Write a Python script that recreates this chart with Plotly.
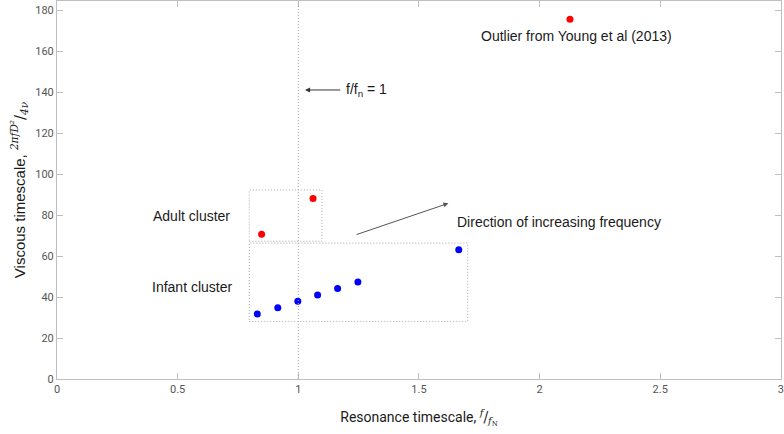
import plotly.graph_objects as go

# Data
infant_x = [0.83, 0.915, 0.998, 1.08, 1.163, 1.247, 1.665]
infant_y = [31.7, 34.8, 37.9, 41.0, 44.2, 47.3, 63.1]
adult_x = [0.848, 1.061]
adult_y = [70.6, 88.0]
outlier_x = [2.126]
outlier_y = [175.5]

x_ticks = [0, 0.5, 1, 1.5, 2, 2.5, 3]
x_ticklabels = ["0", "0.5", "1", "1.5", "2", "2.5", "3"]
y_ticks = [0, 20, 40, 60, 80, 100, 120, 140, 160, 180]

# Boxes (data coords)
adult_box = dict(x0=0.797, x1=1.098, y0=67.2, y1=92.2)
infant_box = dict(x0=0.797, x1=1.702, y0=28.1, y1=66.3)

fig = go.Figure()
fig.add_trace(go.Scatter(x=infant_x, y=infant_y, mode="markers",
                         marker=dict(color="#0000ff", size=7, line=dict(width=0)),
                         showlegend=False, cliponaxis=False))
fig.add_trace(go.Scatter(x=adult_x + outlier_x, y=adult_y + outlier_y, mode="markers",
                         marker=dict(color="#ff0000", size=7, line=dict(width=0)),
                         showlegend=False, cliponaxis=False))

line_style = dict(color="#a6a6a6", width=1, dash="1px,2px")
fig.add_shape(type="line", xref="x", yref="paper", x0=1, x1=1, y0=0, y1=1, line=line_style)
for b in (adult_box, infant_box):
    fig.add_shape(type="rect", xref="x", yref="y", line=line_style, **b)

txt_font = dict(family="Liberation Sans, Arial, sans-serif", size=14, color="#1a1a1a")

fig.add_annotation(x=1.028, y=141, ax=1.18, ay=141, xref="x", yref="y", axref="x", ayref="y",
                   text="", showarrow=True, arrowhead=2, arrowsize=1, arrowwidth=1, arrowcolor="#333")
fig.add_annotation(x=1.19, y=141, xref="x", yref="y", text="f/f<sub>n</sub> = 1",
                   showarrow=False, xanchor="left", yanchor="middle", font=txt_font)
fig.add_annotation(x=1.622, y=85.7, ax=1.235, ay=70.2, xref="x", yref="y", axref="x", ayref="y",
                   text="", showarrow=True, arrowhead=2, arrowsize=1, arrowwidth=1, arrowcolor="#555")
fig.add_annotation(x=1.649, y=76.4, xref="x", yref="y", text="Direction of increasing frequency",
                   showarrow=False, xanchor="left", yanchor="middle", font=txt_font)
fig.add_annotation(x=0.558, y=79.5, xref="x", yref="y", text="Adult cluster",
                   showarrow=False, xanchor="center", yanchor="middle", font=txt_font)
fig.add_annotation(x=0.558, y=44.7, xref="x", yref="y", text="Infant cluster",
                   showarrow=False, xanchor="center", yanchor="middle", font=txt_font)
fig.add_annotation(x=1.75, y=167.3, xref="x", yref="y", text="Outlier from Young et al (2013)",
                   showarrow=False, xanchor="left", yanchor="middle", font=txt_font)

tick_font = dict(family="Roboto, sans-serif", size=11, color="#555")
axis_common = dict(showgrid=False, zeroline=False, showline=True, linecolor="#bfbfbf", linewidth=1,
                   mirror="ticks", ticks="inside", ticklen=6, tickcolor="#bfbfbf", tickfont=tick_font,
                   automargin=False, ticklabeloverflow="allow")

serif = "font-family:DejaVu Serif"
fig.update_xaxes(range=[0, 3.0005], tickvals=x_ticks, ticktext=x_ticklabels, **axis_common,
                 title=dict(text=("Resonance timescale, <span style='" + serif + "'><sup><i>f</i></sup>"
                                  "/<sub><i>f</i><sub>N</sub></sub></span>"),
                            font=dict(family="Roboto, sans-serif", size=14, color="#1a1a1a"), standoff=16))
fig.update_yaxes(range=[0, 184.4], tickvals=y_ticks, **axis_common,
                 title=dict(text=("Viscous timescale, <span style='" + serif + "'><sup><i>2πfD²</i></sup>"
                                  "/<sub><i>4ν</i></sub></span>"),
                            font=dict(family="Liberation Sans, Arial, sans-serif", size=15, color="#1a1a1a"),
                            standoff=6))

fig.update_layout(width=784, height=434, margin=dict(l=57, r=3, t=1, b=55),
                  plot_bgcolor="white", paper_bgcolor="white")

fig.write_html("out.html", config={"displayModeBar": False},
               post_script="document.body.style.margin='0';document.body.style.overflow='hidden';")
